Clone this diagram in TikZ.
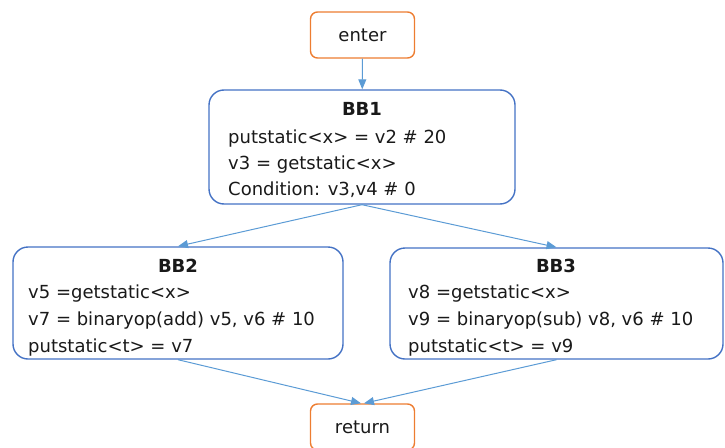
\documentclass[tikz,border=0pt]{standalone}
\usepackage{fontspec}
\setmainfont{DejaVu Sans}
\usetikzlibrary{arrows.meta}
\definecolor{termorange}{RGB}{237,125,49}
\definecolor{blockblue}{RGB}{68,114,196}
\definecolor{flowblue}{RGB}{91,155,213}
\definecolor{inktext}{RGB}{25,25,25}
\begin{document}
\begin{tikzpicture}[x=1pt,y=-1pt,
  term/.style={draw=termorange, line width=1.4pt, rounded corners=7pt,
    minimum width=104pt, minimum height=46pt, inner sep=0pt,
    font=\fontsize{18}{22}\selectfont, text=inktext},
  block/.style={draw=blockblue, line width=1.4pt, rounded corners=15pt, inner sep=0pt},
  flow/.style={draw=flowblue, line width=1pt, -{Triangle[length=10pt,width=8pt]}},
  title/.style={anchor=base, inner sep=0pt, font=\fontsize{18}{22}\selectfont\bfseries, text=inktext},
  codeline/.style={anchor=base west, inner sep=0pt, font=\fontsize{18}{22}\selectfont, text=inktext}]
\useasboundingbox (0,0) rectangle (725,447);

% terminals
\node[term] (enter) at (362.5,35) {enter};
\node[term] (ret) at (362.5,427) {return};

% basic blocks
\node[block, minimum width=306pt, minimum height=114pt] (bb1) at (362,147) {};
\node[block, minimum width=330pt, minimum height=112pt] (bb2) at (178,303) {};
\node[block, minimum width=333pt, minimum height=111pt] (bb3) at (556.5,303.5) {};

% block contents
\node[title] (t1) at (362,115) {BB1};
\node[codeline] (b1a) at (228,143) {putstatic<x> = v2 \# 20};
\node[codeline] (b1b) at (228,169) {v3 = getstatic<x>};
\node[codeline] (b1c) at (228,195) {Condition: v3,v4 \# 0};

\node[title] (t2) at (178,272) {BB2};
\node[codeline] (b2a) at (28,298) {v5 =getstatic<x>};
\node[codeline] (b2b) at (28,325) {v7 = binaryop(add) v5, v6 \# 10};
\node[codeline] (b2c) at (28,352) {putstatic<t> = v7};

\node[title] (t3) at (556,272) {BB3};
\node[codeline] (b3a) at (408,298) {v8 =getstatic<x>};
\node[codeline] (b3b) at (408,325) {v9 = binaryop(sub) v8, v6 \# 10};
\node[codeline] (b3c) at (408,352) {putstatic<t> = v9};

% control flow
\draw[flow] (enter) -- (bb1);
\draw[flow] (bb1.south) -- (bb2.north);
\draw[flow] (bb1.south) -- (bb3.north);
\draw[flow] (bb2.south) -- ([xshift=-1.5pt]ret.north);
\draw[flow] (bb3.south) -- ([xshift=1.5pt]ret.north);
\end{tikzpicture}
\end{document}
